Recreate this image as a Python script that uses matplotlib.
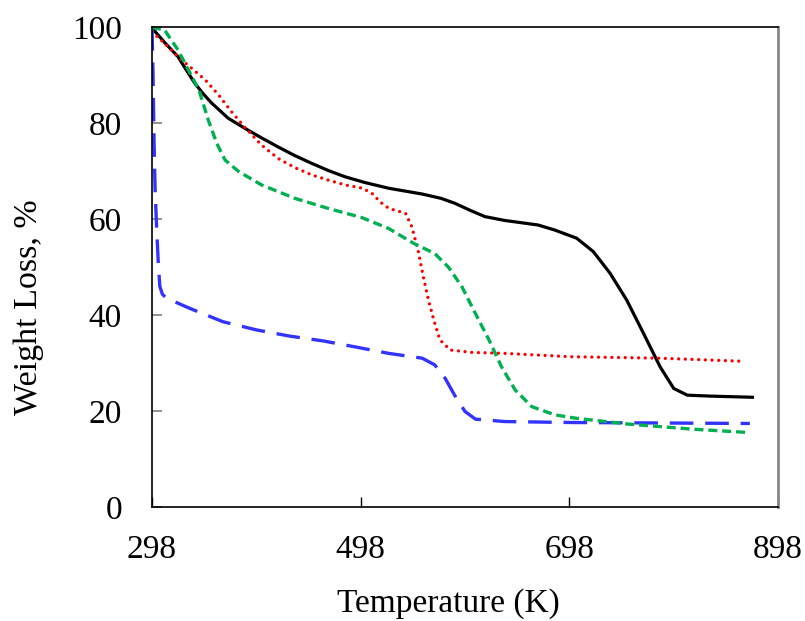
import matplotlib
matplotlib.use('Agg')
import matplotlib.pyplot as plt

# temperature (K) / weight (%)
t_black = [298, 310, 323, 331, 339, 347, 355, 371, 387, 403, 419, 435, 451, 467, 483,
           502, 525, 557, 575, 588, 603, 617, 636, 668, 684, 705, 721, 737, 753, 769,
           785, 798, 811, 833, 875]
w_black = [99.8, 96.8, 93.8, 91.0, 88.3, 86.1, 84.2, 81, 78.9, 76.9, 75, 73.2, 71.6,
           70.1, 68.8, 67.6, 66.4, 65.2, 64.3, 63.3, 61.8, 60.5, 59.7, 58.75, 57.7, 56,
           53.2, 48.7, 43.1, 36.2, 29.2, 24.7, 23.3, 23.1, 22.85]

t_red = [298, 310, 323, 336, 349, 362, 374, 387, 403, 419, 435, 451, 467, 483, 500,
         509, 517, 525, 533, 541, 547, 553, 558, 563, 568, 574, 584, 605, 636, 700,
         785, 865]
w_red = [99, 96.6, 93.8, 91.4, 89, 85.8, 82.4, 79.1, 75.4, 72.6, 70.7, 69.2, 68.1,
         67.1, 66.4, 65.3, 63.5, 62.2, 61.7, 61.2, 58.4, 53.5, 48, 43.1, 39, 34.8,
         32.7, 32.2, 32, 31.3, 31, 30.35]

t_green = [298, 310, 323, 333, 343, 352, 360, 368, 381, 403, 435, 467, 499, 525, 549,
           569, 582, 595, 608, 621, 633, 646, 662, 684, 704, 753, 817, 871]
w_green = [99.9, 99.4, 95.2, 91, 86.9, 80.6, 75.8, 72.3, 69.9, 67.1, 64.3, 62.2, 60.3,
           58, 54.9, 52.8, 50, 45.9, 40.3, 34.8, 29.2, 24.4, 20.9, 19.2, 18.5, 17.3,
           16.2, 15.5]

t_blue = [298, 299, 300, 301, 302.5, 304, 305.5, 308, 312, 334, 366, 398, 430, 462,
          494, 525, 557, 569, 579, 588, 598, 608, 636, 700, 871]
w_blue = [100, 90, 76, 66, 58, 51, 46, 44.3, 43.5, 41.4, 38.6, 36.9, 35.6, 34.6, 33.3,
          32, 31, 29.6, 26.8, 23.3, 19.9, 18.3, 17.8, 17.6, 17.4]

x_ticks = [298, 498, 698, 898]
y_ticks = [0, 20, 40, 60, 80, 100]

plt.rcParams['font.family'] = ['Liberation Serif', 'DejaVu Serif']
plt.rcParams['lines.scale_dashes'] = False

fig = plt.figure(figsize=(8.05, 6.21), dpi=100)
ax = fig.add_axes([0.1888, 0.1836, 0.7777, 0.7729])

ax.plot(t_black, w_black, color='black', lw=2.3, solid_capstyle='butt')
ax.plot(t_red, w_red, color='#FF0000', lw=2.4, dashes=(0.01, 4.8),
        dash_capstyle='round')
ax.plot(t_blue, w_blue, color='#3333FF', lw=2.4, dashes=(17, 8.5))
ax.plot(t_green, w_green, color='#00B050', lw=2.4, dashes=(6.5, 3.5))

ax.set_xlim(298, 898)
ax.set_ylim(0, 100)
ax.set_xticks(x_ticks)
ax.set_yticks(y_ticks)
ax.tick_params(axis='x', direction='in', length=7, width=1, pad=20,
               labelsize=24, colors='black')
ax.tick_params(axis='y', direction='in', length=7, width=1.2, pad=21.5,
               labelsize=24, color='#808080', labelcolor='black')

for side in ['left', 'bottom', 'top']:
    ax.spines[side].set_color('black')
    ax.spines[side].set_linewidth(1.2)
ax.spines['right'].set_color('#888888')
ax.spines['right'].set_linewidth(2)

ax.set_xlabel('Temperature (K)', fontsize=24)
ax.xaxis.set_label_coords(0.473, -0.169)
ax.set_ylabel('Weight Loss, %', fontsize=24.5)
ax.yaxis.set_label_coords(-0.1725, 0.4167)

fig.savefig('out.png', dpi=100)
